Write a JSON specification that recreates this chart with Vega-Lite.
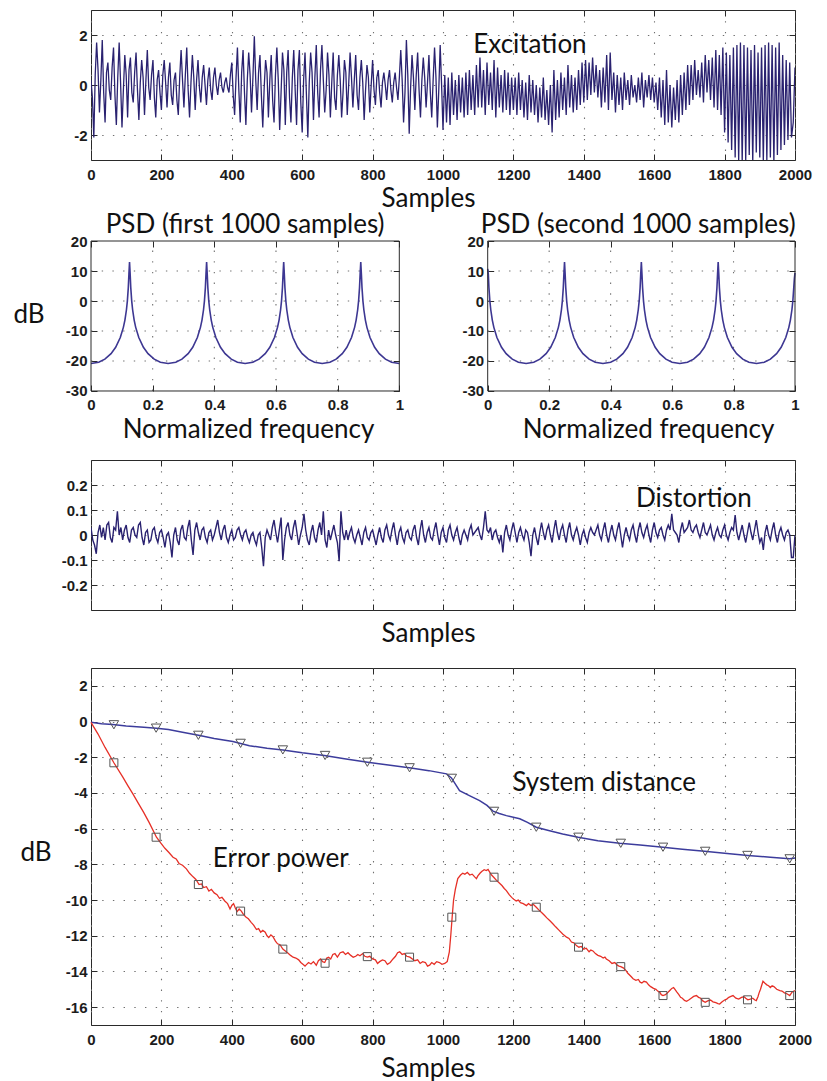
{
"$schema": "https://vega.github.io/schema/vega-lite/v6.json",
"background": "white",
"padding": {"left": 13, "top": 9, "right": 12, "bottom": 0},
"autosize": {"type": "pad"},
"bounds": "flush",
"spacing": 58,
"config": {
  "view": {"stroke": "#2a2a2a", "strokeWidth": 1},
  "axis": {"domain": false, "grid": true, "gridColor": "#707070", "gridDash": [1.4, 9.3], "gridWidth": 1.1, "ticks": true, "tickSize": -6, "tickColor": "#2a2a2a", "labelFont": "Liberation Sans", "labelFontWeight": "bold", "labelFontSize": 15, "labelColor": "#1c1c1c", "labelFlush": false, "labelOverlap": false, "titleFont": "Lato", "titleFontSize": 26, "titleFontWeight": "normal", "titleColor": "#111111", "titleBaseline": "alphabetic"},
  "axisX": {"labelPadding": 13, "titleAlign": "center"},
  "axisY": {"labelPadding": 10, "titleAngle": 0, "titleAlign": "left"},
  "text": {"font": "Lato", "fontSize": 26, "baseline": "alphabetic", "align": "center", "color": "#111111"}
},
"datasets": {
  "exc": [
{"x":0,"y":0.2},{"x":4,"y":-0.5},{"x":8,"y":-2.1},{"x":12,"y":0.4},{"x":16,"y":1.7},{"x":20,"y":0.6},{"x":24,"y":-1.1},{"x":28,"y":0.2},{"x":32,"y":1.8},{"x":36,"y":-0.3},{"x":40,"y":-1.5},{"x":44,"y":0.5},{"x":48,"y":0.9},{"x":52,"y":-0.2},{"x":56,"y":-0.6},{"x":60,"y":0.7},{"x":64,"y":1.5},{"x":68,"y":-0.4},{"x":72,"y":-1.6},{"x":76,"y":0.3},{"x":80,"y":1.7},{"x":84,"y":0.1},{"x":88,"y":-1.7},{"x":92,"y":-0.2},{"x":96,"y":1.2},{"x":100,"y":0.4},{"x":104,"y":-1.3},{"x":108,"y":0.6},{"x":112,"y":1.1},{"x":116,"y":-0.3},{"x":120,"y":-0.7},{"x":124,"y":0.5},{"x":128,"y":1.3},{"x":132,"y":-0.2},{"x":136,"y":-1.4},{"x":140,"y":0.1},{"x":144,"y":1.0},{"x":148,"y":0.3},{"x":152,"y":-1.2},{"x":156,"y":0.2},{"x":160,"y":1.4},{"x":164,"y":-0.1},{"x":168,"y":-0.6},{"x":172,"y":0.4},{"x":176,"y":1.0},{"x":180,"y":-0.5},{"x":184,"y":-1.3},{"x":188,"y":0.2},{"x":192,"y":0.6},{"x":196,"y":-0.3},{"x":200,"y":-1.0},{"x":204,"y":0.4},{"x":208,"y":1.0},{"x":212,"y":0.1},{"x":216,"y":-0.9},{"x":220,"y":0.3},{"x":224,"y":0.9},{"x":228,"y":-0.4},{"x":232,"y":-0.8},{"x":236,"y":0.2},{"x":240,"y":0.5},{"x":244,"y":-0.6},{"x":248,"y":-1.2},{"x":252,"y":0.3},{"x":256,"y":1.4},{"x":260,"y":0.2},{"x":264,"y":-0.9},{"x":268,"y":0.4},{"x":272,"y":1.5},{"x":276,"y":-0.2},{"x":280,"y":-1.3},{"x":284,"y":0.1},{"x":288,"y":1.2},{"x":292,"y":0.3},{"x":296,"y":-1.0},{"x":300,"y":0.2},{"x":304,"y":1.0},{"x":308,"y":-0.1},{"x":312,"y":-0.7},{"x":316,"y":0.3},{"x":320,"y":0.8},{"x":324,"y":0.0},{"x":328,"y":-0.8},{"x":332,"y":0.2},{"x":336,"y":0.7},{"x":340,"y":-0.2},{"x":344,"y":-0.6},{"x":348,"y":0.3},{"x":352,"y":0.7},{"x":356,"y":0.0},{"x":360,"y":-0.4},{"x":364,"y":0.2},{"x":368,"y":0.5},{"x":372,"y":-0.1},{"x":376,"y":-0.3},{"x":380,"y":0.1},{"x":384,"y":0.3},{"x":388,"y":-0.1},{"x":392,"y":-0.3},{"x":396,"y":0.4},{"x":400,"y":0.9},{"x":404,"y":-0.4},{"x":408,"y":-1.2},{"x":412,"y":0.3},{"x":416,"y":1.5},{"x":420,"y":-0.2},{"x":424,"y":-1.5},{"x":428,"y":0.5},{"x":432,"y":1.4},{"x":436,"y":-0.3},{"x":440,"y":-1.6},{"x":444,"y":0.2},{"x":448,"y":1.3},{"x":452,"y":0.4},{"x":456,"y":-1.1},{"x":460,"y":0.3},{"x":464,"y":1.95},{"x":468,"y":0.2},{"x":472,"y":-1.0},{"x":476,"y":0.5},{"x":480,"y":1.2},{"x":484,"y":-0.4},{"x":488,"y":-1.7},{"x":492,"y":-0.1},{"x":496,"y":1.0},{"x":500,"y":0.5},{"x":504,"y":-1.3},{"x":508,"y":0.2},{"x":512,"y":1.2},{"x":516,"y":-0.6},{"x":520,"y":-1.5},{"x":524,"y":0.4},{"x":528,"y":1.5},{"x":532,"y":0.2},{"x":536,"y":-1.8},{"x":540,"y":-0.3},{"x":544,"y":1.3},{"x":548,"y":0.6},{"x":552,"y":-1.6},{"x":556,"y":0.5},{"x":560,"y":1.4},{"x":564,"y":-0.5},{"x":568,"y":-1.5},{"x":572,"y":0.3},{"x":576,"y":1.4},{"x":580,"y":-0.2},{"x":584,"y":-1.6},{"x":588,"y":0.6},{"x":592,"y":1.4},{"x":596,"y":-0.7},{"x":600,"y":-1.9},{"x":604,"y":0.2},{"x":608,"y":1.3},{"x":612,"y":-0.4},{"x":616,"y":-2.1},{"x":620,"y":0.1},{"x":624,"y":1.3},{"x":628,"y":0.5},{"x":632,"y":-1.4},{"x":636,"y":0.3},{"x":640,"y":1.6},{"x":644,"y":-0.3},{"x":648,"y":-1.3},{"x":652,"y":0.6},{"x":656,"y":1.6},{"x":660,"y":0.2},{"x":664,"y":-1.1},{"x":668,"y":-0.2},{"x":672,"y":1.3},{"x":676,"y":0.4},{"x":680,"y":-1.3},{"x":684,"y":0.1},{"x":688,"y":1.3},{"x":692,"y":-0.5},{"x":696,"y":-1.0},{"x":700,"y":0.4},{"x":704,"y":1.2},{"x":708,"y":0.2},{"x":712,"y":-1.3},{"x":716,"y":-0.3},{"x":720,"y":1.0},{"x":724,"y":0.5},{"x":728,"y":-1.2},{"x":732,"y":0.0},{"x":736,"y":1.3},{"x":740,"y":0.3},{"x":744,"y":-0.9},{"x":748,"y":0.2},{"x":752,"y":1.2},{"x":756,"y":-0.4},{"x":760,"y":-1.0},{"x":764,"y":0.3},{"x":768,"y":1.0},{"x":772,"y":0.1},{"x":776,"y":-1.4},{"x":780,"y":-0.2},{"x":784,"y":0.8},{"x":788,"y":0.3},{"x":792,"y":-1.1},{"x":796,"y":0.0},{"x":800,"y":1.0},{"x":804,"y":-0.2},{"x":808,"y":-0.8},{"x":812,"y":0.3},{"x":816,"y":0.6},{"x":820,"y":-0.3},{"x":824,"y":-0.9},{"x":828,"y":0.1},{"x":832,"y":0.5},{"x":836,"y":0.0},{"x":840,"y":-0.6},{"x":844,"y":0.2},{"x":848,"y":0.6},{"x":852,"y":-0.2},{"x":856,"y":-0.7},{"x":860,"y":0.1},{"x":864,"y":0.5},{"x":868,"y":-0.1},{"x":872,"y":-0.6},{"x":876,"y":0.3},{"x":880,"y":1.4},{"x":884,"y":0.2},{"x":888,"y":-1.5},{"x":892,"y":-0.3},{"x":896,"y":1.8},{"x":900,"y":0.4},{"x":904,"y":-1.95},{"x":908,"y":-0.1},{"x":912,"y":1.2},{"x":916,"y":0.3},{"x":920,"y":-1.0},{"x":924,"y":0.4},{"x":928,"y":1.3},{"x":932,"y":-0.2},{"x":936,"y":-1.3},{"x":940,"y":0.2},{"x":944,"y":1.1},{"x":948,"y":0.3},{"x":952,"y":-0.9},{"x":956,"y":0.1},{"x":960,"y":1.2},{"x":964,"y":-0.3},{"x":968,"y":-1.3},{"x":972,"y":0.2},{"x":976,"y":1.5},{"x":980,"y":0.3},{"x":984,"y":-1.7},{"x":988,"y":-0.2},{"x":992,"y":1.6},{"x":996,"y":0.0},{"x":1000,"y":-1.8},
{"x":1005,"y":0.4},{"x":1010,"y":-1.5},{"x":1015,"y":0.3},{"x":1020,"y":-1.6},{"x":1025,"y":0.5},{"x":1030,"y":-1.2},{"x":1035,"y":0.2},{"x":1040,"y":-1.4},{"x":1045,"y":0.4},{"x":1050,"y":-1.1},{"x":1055,"y":0.3},{"x":1060,"y":-1.3},{"x":1065,"y":0.5},{"x":1070,"y":-1.2},{"x":1075,"y":0.6},{"x":1080,"y":-1.0},{"x":1085,"y":0.4},{"x":1090,"y":-1.2},{"x":1095,"y":0.8},{"x":1100,"y":-0.9},
{"x":1105,"y":1.1},{"x":1110,"y":-0.9},{"x":1115,"y":0.6},{"x":1120,"y":-1.2},{"x":1125,"y":0.9},{"x":1130,"y":-0.8},{"x":1135,"y":0.5},{"x":1140,"y":-1.0},{"x":1145,"y":1.0},{"x":1150,"y":-1.3},{"x":1155,"y":0.7},{"x":1160,"y":-0.9},{"x":1165,"y":0.4},{"x":1170,"y":-1.1},{"x":1175,"y":0.6},{"x":1180,"y":-1.0},{"x":1185,"y":0.5},{"x":1190,"y":-1.2},{"x":1195,"y":0.3},{"x":1200,"y":-1.0},
{"x":1205,"y":0.3},{"x":1210,"y":-1.2},{"x":1215,"y":0.5},{"x":1220,"y":-1.0},{"x":1225,"y":0.2},{"x":1230,"y":-1.3},{"x":1235,"y":0.1},{"x":1240,"y":-1.4},{"x":1245,"y":0.4},{"x":1250,"y":-1.1},{"x":1255,"y":0.2},{"x":1260,"y":-1.2},{"x":1265,"y":0.0},{"x":1270,"y":-1.5},{"x":1275,"y":-0.1},{"x":1280,"y":-1.3},{"x":1285,"y":0.3},{"x":1290,"y":-1.4},{"x":1295,"y":-0.2},{"x":1300,"y":-1.6},
{"x":1305,"y":0.0},{"x":1310,"y":-1.9},{"x":1315,"y":0.6},{"x":1320,"y":-1.4},{"x":1325,"y":0.2},{"x":1330,"y":-1.3},{"x":1335,"y":0.5},{"x":1340,"y":-1.0},{"x":1345,"y":0.3},{"x":1350,"y":-1.2},{"x":1355,"y":0.8},{"x":1360,"y":-0.9},{"x":1365,"y":0.4},{"x":1370,"y":-1.1},{"x":1375,"y":0.3},{"x":1380,"y":-1.0},{"x":1385,"y":0.6},{"x":1390,"y":-0.8},{"x":1395,"y":0.9},{"x":1400,"y":-0.7},
{"x":1405,"y":1.0},{"x":1410,"y":-0.6},{"x":1415,"y":0.9},{"x":1420,"y":-0.4},{"x":1425,"y":1.1},{"x":1430,"y":-0.3},{"x":1435,"y":0.8},{"x":1440,"y":-0.5},{"x":1445,"y":0.6},{"x":1450,"y":-0.9},{"x":1455,"y":0.7},{"x":1460,"y":-0.7},{"x":1465,"y":1.2},{"x":1470,"y":-1.0},{"x":1475,"y":1.3},{"x":1480,"y":-0.6},{"x":1485,"y":0.5},{"x":1490,"y":-1.1},{"x":1495,"y":0.4},{"x":1500,"y":-0.8},
{"x":1505,"y":0.3},{"x":1510,"y":-1.0},{"x":1515,"y":0.5},{"x":1520,"y":-0.6},{"x":1525,"y":0.2},{"x":1530,"y":-0.8},{"x":1535,"y":0.4},{"x":1540,"y":-0.5},{"x":1545,"y":0.0},{"x":1550,"y":-0.7},{"x":1555,"y":0.3},{"x":1560,"y":-0.6},{"x":1565,"y":0.5},{"x":1570,"y":-0.9},{"x":1575,"y":0.2},{"x":1580,"y":-0.5},{"x":1585,"y":0.4},{"x":1590,"y":-0.6},{"x":1595,"y":0.3},{"x":1600,"y":-0.7},
{"x":1605,"y":0.1},{"x":1610,"y":-1.0},{"x":1615,"y":0.3},{"x":1620,"y":-1.3},{"x":1625,"y":0.2},{"x":1630,"y":-1.6},{"x":1635,"y":0.6},{"x":1640,"y":-1.5},{"x":1645,"y":0.0},{"x":1650,"y":-1.7},{"x":1655,"y":-0.1},{"x":1660,"y":-1.4},{"x":1665,"y":0.2},{"x":1670,"y":-1.5},{"x":1675,"y":0.4},{"x":1680,"y":-1.2},{"x":1685,"y":0.5},{"x":1690,"y":-1.0},{"x":1695,"y":0.8},{"x":1700,"y":-0.8},
{"x":1705,"y":0.8},{"x":1710,"y":-0.6},{"x":1715,"y":1.0},{"x":1720,"y":-0.4},{"x":1725,"y":0.6},{"x":1730,"y":-0.5},{"x":1735,"y":0.9},{"x":1740,"y":-0.7},{"x":1745,"y":1.2},{"x":1750,"y":-0.3},{"x":1755,"y":1.0},{"x":1760,"y":-0.6},{"x":1765,"y":1.1},{"x":1770,"y":-0.9},{"x":1775,"y":1.4},{"x":1780,"y":-1.0},{"x":1785,"y":1.2},{"x":1790,"y":-1.2},{"x":1795,"y":1.5},{"x":1800,"y":-1.9},
{"x":1805,"y":1.3},{"x":1810,"y":-2.3},{"x":1815,"y":1.2},{"x":1820,"y":-2.6},{"x":1825,"y":1.5},{"x":1830,"y":-2.9},{"x":1835,"y":1.6},{"x":1840,"y":-3.0},{"x":1845,"y":1.7},{"x":1850,"y":-3.1},{"x":1855,"y":1.6},{"x":1860,"y":-3.0},{"x":1865,"y":1.5},{"x":1870,"y":-2.8},{"x":1875,"y":1.4},{"x":1880,"y":-3.1},{"x":1885,"y":1.6},{"x":1890,"y":-2.7},{"x":1895,"y":1.3},{"x":1900,"y":-2.9},
{"x":1905,"y":1.5},{"x":1910,"y":-3.1},{"x":1915,"y":1.6},{"x":1920,"y":-3.0},{"x":1925,"y":1.7},{"x":1930,"y":-2.9},{"x":1935,"y":1.6},{"x":1940,"y":-3.1},{"x":1945,"y":1.5},{"x":1950,"y":-2.8},{"x":1955,"y":1.7},{"x":1960,"y":-2.6},{"x":1965,"y":1.2},{"x":1970,"y":-2.4},{"x":1975,"y":1.0},{"x":1980,"y":-2.2},{"x":1985,"y":0.9},{"x":1990,"y":-2.1},{"x":1995,"y":-1.5},{"x":2000,"y":0.7}
  ],
  "psd1": [
{"f":0,"db":-20.85},{"f":0.025,"db":-20.41},{"f":0.045,"db":-19.38},{"f":0.065,"db":-17.56},{"f":0.08,"db":-15.43},{"f":0.095,"db":-12.18},{"f":0.105,"db":-8.79},{"f":0.11,"db":-6.35},{"f":0.115,"db":-2.92},{"f":0.118,"db":0.05},{"f":0.121,"db":4.47},{"f":0.123,"db":8.95},{"f":0.125,"db":12.96},{"f":0.127,"db":8.95},{"f":0.129,"db":4.47},{"f":0.132,"db":0.05},{"f":0.135,"db":-2.92},{"f":0.14,"db":-6.35},{"f":0.145,"db":-8.79},{"f":0.155,"db":-12.18},{"f":0.17,"db":-15.43},{"f":0.185,"db":-17.56},{"f":0.205,"db":-19.38},{"f":0.225,"db":-20.41},{"f":0.25,"db":-20.85},
{"f":0.275,"db":-20.41},{"f":0.295,"db":-19.38},{"f":0.315,"db":-17.56},{"f":0.33,"db":-15.43},{"f":0.345,"db":-12.18},{"f":0.355,"db":-8.79},{"f":0.36,"db":-6.35},{"f":0.365,"db":-2.92},{"f":0.368,"db":0.05},{"f":0.371,"db":4.47},{"f":0.373,"db":8.95},{"f":0.375,"db":12.96},{"f":0.377,"db":8.95},{"f":0.379,"db":4.47},{"f":0.382,"db":0.05},{"f":0.385,"db":-2.92},{"f":0.39,"db":-6.35},{"f":0.395,"db":-8.79},{"f":0.405,"db":-12.18},{"f":0.42,"db":-15.43},{"f":0.435,"db":-17.56},{"f":0.455,"db":-19.38},{"f":0.475,"db":-20.41},{"f":0.5,"db":-20.85},
{"f":0.525,"db":-20.41},{"f":0.545,"db":-19.38},{"f":0.565,"db":-17.56},{"f":0.58,"db":-15.43},{"f":0.595,"db":-12.18},{"f":0.605,"db":-8.79},{"f":0.61,"db":-6.35},{"f":0.615,"db":-2.92},{"f":0.618,"db":0.05},{"f":0.621,"db":4.47},{"f":0.623,"db":8.95},{"f":0.625,"db":12.96},{"f":0.627,"db":8.95},{"f":0.629,"db":4.47},{"f":0.632,"db":0.05},{"f":0.635,"db":-2.92},{"f":0.64,"db":-6.35},{"f":0.645,"db":-8.79},{"f":0.655,"db":-12.18},{"f":0.67,"db":-15.43},{"f":0.685,"db":-17.56},{"f":0.705,"db":-19.38},{"f":0.725,"db":-20.41},{"f":0.75,"db":-20.85},
{"f":0.775,"db":-20.41},{"f":0.795,"db":-19.38},{"f":0.815,"db":-17.56},{"f":0.83,"db":-15.43},{"f":0.845,"db":-12.18},{"f":0.855,"db":-8.79},{"f":0.86,"db":-6.35},{"f":0.865,"db":-2.92},{"f":0.868,"db":0.05},{"f":0.871,"db":4.47},{"f":0.873,"db":8.95},{"f":0.875,"db":12.96},{"f":0.877,"db":8.95},{"f":0.879,"db":4.47},{"f":0.882,"db":0.05},{"f":0.885,"db":-2.92},{"f":0.89,"db":-6.35},{"f":0.895,"db":-8.79},{"f":0.905,"db":-12.18},{"f":0.92,"db":-15.43},{"f":0.935,"db":-17.56},{"f":0.955,"db":-19.38},{"f":0.975,"db":-20.41},{"f":1,"db":-20.85}
  ],
  "psd2": [
{"f":0,"db":10.7},{"f":0.002,"db":8.95},{"f":0.004,"db":4.47},{"f":0.007,"db":0.05},{"f":0.01,"db":-2.92},{"f":0.015,"db":-6.35},{"f":0.02,"db":-8.79},{"f":0.03,"db":-12.18},{"f":0.045,"db":-15.43},{"f":0.06,"db":-17.56},{"f":0.08,"db":-19.38},{"f":0.1,"db":-20.41},{"f":0.125,"db":-20.85},{"f":0.15,"db":-20.41},{"f":0.17,"db":-19.38},{"f":0.19,"db":-17.56},{"f":0.205,"db":-15.43},{"f":0.22,"db":-12.18},{"f":0.23,"db":-8.79},{"f":0.235,"db":-6.35},{"f":0.24,"db":-2.92},{"f":0.243,"db":0.05},{"f":0.246,"db":4.47},{"f":0.248,"db":8.95},{"f":0.25,"db":12.96},
{"f":0.252,"db":8.95},{"f":0.254,"db":4.47},{"f":0.257,"db":0.05},{"f":0.26,"db":-2.92},{"f":0.265,"db":-6.35},{"f":0.27,"db":-8.79},{"f":0.28,"db":-12.18},{"f":0.295,"db":-15.43},{"f":0.31,"db":-17.56},{"f":0.33,"db":-19.38},{"f":0.35,"db":-20.41},{"f":0.375,"db":-20.85},{"f":0.4,"db":-20.41},{"f":0.42,"db":-19.38},{"f":0.44,"db":-17.56},{"f":0.455,"db":-15.43},{"f":0.47,"db":-12.18},{"f":0.48,"db":-8.79},{"f":0.485,"db":-6.35},{"f":0.49,"db":-2.92},{"f":0.493,"db":0.05},{"f":0.496,"db":4.47},{"f":0.498,"db":8.95},{"f":0.5,"db":12.96},
{"f":0.502,"db":8.95},{"f":0.504,"db":4.47},{"f":0.507,"db":0.05},{"f":0.51,"db":-2.92},{"f":0.515,"db":-6.35},{"f":0.52,"db":-8.79},{"f":0.53,"db":-12.18},{"f":0.545,"db":-15.43},{"f":0.56,"db":-17.56},{"f":0.58,"db":-19.38},{"f":0.6,"db":-20.41},{"f":0.625,"db":-20.85},{"f":0.65,"db":-20.41},{"f":0.67,"db":-19.38},{"f":0.69,"db":-17.56},{"f":0.705,"db":-15.43},{"f":0.72,"db":-12.18},{"f":0.73,"db":-8.79},{"f":0.735,"db":-6.35},{"f":0.74,"db":-2.92},{"f":0.743,"db":0.05},{"f":0.746,"db":4.47},{"f":0.748,"db":8.95},{"f":0.75,"db":12.96},
{"f":0.752,"db":8.95},{"f":0.754,"db":4.47},{"f":0.757,"db":0.05},{"f":0.76,"db":-2.92},{"f":0.765,"db":-6.35},{"f":0.77,"db":-8.79},{"f":0.78,"db":-12.18},{"f":0.795,"db":-15.43},{"f":0.81,"db":-17.56},{"f":0.83,"db":-19.38},{"f":0.85,"db":-20.41},{"f":0.875,"db":-20.85},{"f":0.9,"db":-20.41},{"f":0.92,"db":-19.38},{"f":0.94,"db":-17.56},{"f":0.955,"db":-15.43},{"f":0.97,"db":-12.18},{"f":0.98,"db":-8.79},{"f":0.985,"db":-6.35},{"f":0.99,"db":-2.92},{"f":0.993,"db":0.05},{"f":0.996,"db":4.47},{"f":0.998,"db":7.5},{"f":1,"db":9.4}
  ],
  "dist": [
{"x":0,"y":0.03},{"x":5,"y":-0.02},{"x":10,"y":-0.04},{"x":15,"y":-0.075},{"x":20,"y":0.01},{"x":25,"y":0.04},{"x":30,"y":-0.01},{"x":35,"y":0.03},{"x":40,"y":-0.02},{"x":45,"y":0.04},{"x":50,"y":0.05},{"x":55,"y":-0.01},{"x":60,"y":-0.03},{"x":65,"y":0.03},{"x":70,"y":0.02},{"x":75,"y":0.095},{"x":80,"y":0.0},{"x":85,"y":0.03},{"x":90,"y":-0.02},{"x":95,"y":0.02},{"x":100,"y":0.04},{"x":105,"y":-0.01},{"x":110,"y":-0.03},{"x":115,"y":0.02},{"x":120,"y":0.03},{"x":125,"y":0.0},{"x":130,"y":-0.01},{"x":135,"y":0.04},{"x":140,"y":0.05},{"x":145,"y":-0.01},{"x":150,"y":-0.04},{"x":155,"y":0.01},{"x":160,"y":0.02},{"x":165,"y":-0.03},{"x":170,"y":-0.02},{"x":175,"y":0.02},{"x":180,"y":0.03},{"x":185,"y":-0.01},{"x":190,"y":-0.03},{"x":195,"y":0.01},{"x":200,"y":0.02},{"x":205,"y":-0.01},{"x":210,"y":-0.05},{"x":215,"y":0.0},{"x":220,"y":0.01},{"x":225,"y":-0.03},{"x":230,"y":-0.09},{"x":235,"y":0.0},{"x":240,"y":0.03},{"x":245,"y":-0.02},{"x":250,"y":-0.04},{"x":255,"y":0.02},{"x":260,"y":0.04},{"x":265,"y":-0.01},{"x":270,"y":-0.02},{"x":275,"y":0.03},{"x":280,"y":0.06},{"x":285,"y":-0.02},{"x":290,"y":-0.08},{"x":295,"y":0.02},{"x":300,"y":0.05},{"x":305,"y":0.01},{"x":310,"y":-0.02},{"x":315,"y":0.02},{"x":320,"y":0.03},{"x":325,"y":-0.01},{"x":330,"y":-0.03},{"x":335,"y":0.01},{"x":340,"y":0.02},{"x":345,"y":-0.02},{"x":350,"y":0.0},{"x":355,"y":0.03},{"x":360,"y":0.06},{"x":365,"y":0.01},{"x":370,"y":-0.02},{"x":375,"y":0.02},{"x":380,"y":0.04},{"x":385,"y":-0.01},{"x":390,"y":-0.03},{"x":395,"y":0.0},{"x":400,"y":0.02},{"x":405,"y":-0.02},{"x":410,"y":-0.01},{"x":415,"y":0.02},{"x":420,"y":0.03},{"x":425,"y":0.0},{"x":430,"y":-0.02},{"x":435,"y":0.01},{"x":440,"y":0.02},{"x":445,"y":-0.01},{"x":450,"y":-0.03},{"x":455,"y":0.0},{"x":460,"y":0.01},{"x":465,"y":-0.02},{"x":470,"y":-0.04},{"x":475,"y":0.0},{"x":480,"y":0.01},{"x":485,"y":-0.05},{"x":490,"y":-0.125},{"x":495,"y":-0.01},{"x":500,"y":0.02},{"x":505,"y":0.0},{"x":510,"y":-0.02},{"x":515,"y":0.03},{"x":520,"y":0.06},{"x":525,"y":0.01},{"x":530,"y":-0.03},{"x":535,"y":0.02},{"x":540,"y":0.07},{"x":545,"y":-0.1},{"x":550,"y":-0.02},{"x":555,"y":0.03},{"x":560,"y":0.05},{"x":565,"y":0.0},{"x":570,"y":-0.02},{"x":575,"y":0.03},{"x":580,"y":0.06},{"x":585,"y":0.01},{"x":590,"y":-0.04},{"x":595,"y":0.0},{"x":600,"y":0.03},{"x":605,"y":0.085},{"x":610,"y":0.02},{"x":615,"y":-0.02},{"x":620,"y":-0.04},{"x":625,"y":0.01},{"x":630,"y":0.04},{"x":635,"y":-0.01},{"x":640,"y":-0.03},{"x":645,"y":0.02},{"x":650,"y":0.05},{"x":655,"y":0.0},{"x":660,"y":0.095},{"x":665,"y":-0.02},{"x":670,"y":-0.05},{"x":675,"y":0.02},{"x":680,"y":-0.02},{"x":685,"y":0.01},{"x":690,"y":0.04},{"x":695,"y":0.0},{"x":700,"y":-0.03},{"x":705,"y":-0.105},{"x":710,"y":0.095},{"x":715,"y":0.01},{"x":720,"y":-0.02},{"x":725,"y":0.02},{"x":730,"y":-0.02},{"x":735,"y":0.01},{"x":740,"y":0.03},{"x":745,"y":-0.01},{"x":750,"y":-0.03},{"x":755,"y":0.0},{"x":760,"y":0.02},{"x":765,"y":-0.01},{"x":770,"y":-0.04},{"x":775,"y":0.01},{"x":780,"y":0.03},{"x":785,"y":-0.01},{"x":790,"y":-0.02},{"x":795,"y":0.01},{"x":800,"y":0.02},{"x":805,"y":-0.01},{"x":810,"y":-0.04},{"x":815,"y":0.0},{"x":820,"y":0.03},{"x":825,"y":-0.01},{"x":830,"y":-0.03},{"x":835,"y":0.02},{"x":840,"y":0.04},{"x":845,"y":0.0},{"x":850,"y":-0.02},{"x":855,"y":0.02},{"x":860,"y":0.05},{"x":865,"y":0.0},{"x":870,"y":-0.04},{"x":875,"y":0.01},{"x":880,"y":0.03},{"x":885,"y":-0.01},{"x":890,"y":-0.03},{"x":895,"y":0.01},{"x":900,"y":0.02},{"x":905,"y":-0.01},{"x":910,"y":-0.02},{"x":915,"y":0.02},{"x":920,"y":0.04},{"x":925,"y":-0.01},{"x":930,"y":-0.04},{"x":935,"y":0.02},{"x":940,"y":0.06},{"x":945,"y":0.0},{"x":950,"y":-0.03},{"x":955,"y":0.01},{"x":960,"y":0.03},{"x":965,"y":-0.01},{"x":970,"y":-0.02},{"x":975,"y":0.02},{"x":980,"y":0.05},{"x":985,"y":0.0},{"x":990,"y":-0.04},{"x":995,"y":0.01},{"x":1000,"y":0.03},{"x":1005,"y":-0.01},{"x":1010,"y":-0.03},{"x":1015,"y":0.02},{"x":1020,"y":0.04},{"x":1025,"y":0.0},{"x":1030,"y":-0.02},{"x":1035,"y":0.01},{"x":1040,"y":0.03},{"x":1045,"y":-0.01},{"x":1050,"y":-0.04},{"x":1055,"y":0.0},{"x":1060,"y":0.02},{"x":1065,"y":0.0},{"x":1070,"y":-0.02},{"x":1075,"y":0.02},{"x":1080,"y":0.04},{"x":1085,"y":0.0},{"x":1090,"y":0.01},{"x":1095,"y":0.02},{"x":1100,"y":0.03},{"x":1105,"y":0.0},{"x":1110,"y":-0.02},{"x":1115,"y":0.03},{"x":1120,"y":0.095},{"x":1125,"y":0.02},{"x":1130,"y":0.01},{"x":1135,"y":0.03},{"x":1140,"y":-0.02},{"x":1145,"y":0.01},{"x":1150,"y":0.02},{"x":1155,"y":-0.01},{"x":1160,"y":-0.03},{"x":1165,"y":0.0},{"x":1170,"y":-0.07},{"x":1175,"y":0.01},{"x":1180,"y":0.04},{"x":1185,"y":0.0},{"x":1190,"y":-0.02},{"x":1195,"y":0.02},{"x":1200,"y":0.05},{"x":1205,"y":0.01},{"x":1210,"y":-0.03},{"x":1215,"y":0.01},{"x":1220,"y":0.03},{"x":1225,"y":0.0},{"x":1230,"y":-0.02},{"x":1235,"y":0.02},{"x":1240,"y":0.01},{"x":1245,"y":-0.03},{"x":1250,"y":-0.085},{"x":1255,"y":0.0},{"x":1260,"y":0.03},{"x":1265,"y":-0.01},{"x":1270,"y":-0.04},{"x":1275,"y":0.01},{"x":1280,"y":0.05},{"x":1285,"y":0.01},{"x":1290,"y":-0.02},{"x":1295,"y":0.02},{"x":1300,"y":0.04},{"x":1305,"y":0.0},{"x":1310,"y":-0.03},{"x":1315,"y":0.02},{"x":1320,"y":0.06},{"x":1325,"y":0.01},{"x":1330,"y":-0.02},{"x":1335,"y":0.02},{"x":1340,"y":0.04},{"x":1345,"y":0.0},{"x":1350,"y":-0.03},{"x":1355,"y":0.02},{"x":1360,"y":0.05},{"x":1365,"y":0.0},{"x":1370,"y":-0.02},{"x":1375,"y":0.01},{"x":1380,"y":0.03},{"x":1385,"y":0.0},{"x":1390,"y":-0.04},{"x":1395,"y":0.0},{"x":1400,"y":0.02},{"x":1405,"y":-0.01},{"x":1410,"y":-0.03},{"x":1415,"y":0.01},{"x":1420,"y":0.03},{"x":1425,"y":0.01},{"x":1430,"y":0.0},{"x":1435,"y":0.02},{"x":1440,"y":0.04},{"x":1445,"y":0.0},{"x":1450,"y":-0.02},{"x":1455,"y":0.02},{"x":1460,"y":0.05},{"x":1465,"y":0.0},{"x":1470,"y":-0.03},{"x":1475,"y":0.01},{"x":1480,"y":0.04},{"x":1485,"y":0.0},{"x":1490,"y":-0.02},{"x":1495,"y":0.02},{"x":1500,"y":0.05},{"x":1505,"y":0.0},{"x":1510,"y":-0.05},{"x":1515,"y":0.0},{"x":1520,"y":0.03},{"x":1525,"y":0.0},{"x":1530,"y":-0.02},{"x":1535,"y":0.02},{"x":1540,"y":0.04},{"x":1545,"y":0.0},{"x":1550,"y":-0.03},{"x":1555,"y":0.02},{"x":1560,"y":0.05},{"x":1565,"y":0.01},{"x":1570,"y":-0.01},{"x":1575,"y":0.02},{"x":1580,"y":0.04},{"x":1585,"y":0.0},{"x":1590,"y":-0.03},{"x":1595,"y":0.02},{"x":1600,"y":0.05},{"x":1605,"y":0.01},{"x":1610,"y":-0.01},{"x":1615,"y":0.02},{"x":1620,"y":0.03},{"x":1625,"y":0.0},{"x":1630,"y":-0.02},{"x":1635,"y":0.02},{"x":1640,"y":0.04},{"x":1645,"y":0.02},{"x":1650,"y":0.085},{"x":1655,"y":0.02},{"x":1660,"y":0.01},{"x":1665,"y":0.0},{"x":1670,"y":-0.03},{"x":1675,"y":0.02},{"x":1680,"y":0.05},{"x":1685,"y":0.01},{"x":1690,"y":0.02},{"x":1695,"y":0.03},{"x":1700,"y":0.06},{"x":1705,"y":0.02},{"x":1710,"y":0.01},{"x":1715,"y":0.03},{"x":1720,"y":0.04},{"x":1725,"y":0.01},{"x":1730,"y":-0.01},{"x":1735,"y":0.02},{"x":1740,"y":0.05},{"x":1745,"y":0.01},{"x":1750,"y":0.0},{"x":1755,"y":0.02},{"x":1760,"y":0.04},{"x":1765,"y":0.0},{"x":1770,"y":-0.02},{"x":1775,"y":0.01},{"x":1780,"y":0.03},{"x":1785,"y":0.0},{"x":1790,"y":-0.01},{"x":1795,"y":0.02},{"x":1800,"y":0.04},{"x":1805,"y":0.0},{"x":1810,"y":-0.02},{"x":1815,"y":0.01},{"x":1820,"y":0.03},{"x":1825,"y":0.02},{"x":1830,"y":0.08},{"x":1835,"y":0.01},{"x":1840,"y":-0.02},{"x":1845,"y":0.01},{"x":1850,"y":0.04},{"x":1855,"y":0.0},{"x":1860,"y":-0.03},{"x":1865,"y":0.01},{"x":1870,"y":0.05},{"x":1875,"y":0.01},{"x":1880,"y":-0.02},{"x":1885,"y":0.02},{"x":1890,"y":0.06},{"x":1895,"y":0.01},{"x":1900,"y":-0.03},{"x":1905,"y":-0.01},{"x":1910,"y":-0.06},{"x":1915,"y":0.01},{"x":1920,"y":0.04},{"x":1925,"y":0.0},{"x":1930,"y":-0.02},{"x":1935,"y":0.02},{"x":1940,"y":0.05},{"x":1945,"y":0.0},{"x":1950,"y":-0.03},{"x":1955,"y":0.01},{"x":1960,"y":0.03},{"x":1965,"y":0.0},{"x":1970,"y":-0.02},{"x":1975,"y":0.01},{"x":1980,"y":0.02},{"x":1985,"y":0.0},{"x":1990,"y":-0.09},{"x":1995,"y":-0.09},{"x":2000,"y":0.0}
  ],
  "sysd": [
{"x":0,"y":-0.04},{"x":30,"y":-0.12},{"x":62,"y":-0.17},{"x":100,"y":-0.25},{"x":150,"y":-0.32},{"x":186,"y":-0.37},{"x":220,"y":-0.45},{"x":260,"y":-0.6},{"x":309,"y":-0.78},{"x":350,"y":-0.95},{"x":403,"y":-1.12},{"x":450,"y":-1.35},{"x":500,"y":-1.5},{"x":545,"y":-1.59},{"x":600,"y":-1.75},{"x":663,"y":-1.9},{"x":720,"y":-2.08},{"x":786,"y":-2.28},{"x":850,"y":-2.45},{"x":909,"y":-2.6},{"x":960,"y":-2.75},{"x":1010,"y":-2.93},{"x":1024,"y":-3.16},{"x":1047,"y":-3.87},{"x":1075,"y":-4.15},{"x":1104,"y":-4.43},{"x":1125,"y":-4.7},{"x":1142,"y":-5.02},{"x":1160,"y":-5.15},{"x":1180,"y":-5.27},{"x":1218,"y":-5.45},{"x":1240,"y":-5.65},{"x":1265,"y":-5.92},{"x":1300,"y":-6.1},{"x":1340,"y":-6.3},{"x":1384,"y":-6.48},{"x":1440,"y":-6.68},{"x":1502,"y":-6.82},{"x":1560,"y":-6.92},{"x":1625,"y":-7.04},{"x":1680,"y":-7.15},{"x":1743,"y":-7.27},{"x":1800,"y":-7.38},{"x":1866,"y":-7.5},{"x":1930,"y":-7.6},{"x":1985,"y":-7.69},{"x":2000,"y":-7.65}
  ],
  "errp": [
{"x":0,"y":-0.05},{"x":20,"y":-0.7},{"x":40,"y":-1.45},{"x":65,"y":-2.31},{"x":90,"y":-3.1},{"x":105,"y":-3.6},{"x":119,"y":-4.05},{"x":135,"y":-4.6},{"x":150,"y":-5.1},{"x":165,"y":-5.65},{"x":186,"y":-6.48},{"x":198,"y":-6.8},{"x":210,"y":-7.1},{"x":222,"y":-7.35},{"x":233,"y":-7.6},{"x":242,"y":-7.7},{"x":250,"y":-7.95},{"x":260,"y":-8.05},{"x":271,"y":-8.25},{"x":280,"y":-8.5},{"x":290,"y":-8.7},{"x":298,"y":-8.85},{"x":307,"y":-9.13},{"x":314,"y":-9.1},{"x":320,"y":-9.3},{"x":328,"y":-9.25},{"x":335,"y":-9.5},{"x":342,"y":-9.4},{"x":350,"y":-9.6},{"x":358,"y":-9.7},{"x":365,"y":-9.9},{"x":372,"y":-9.85},{"x":380,"y":-10.05},{"x":388,"y":-10.2},{"x":395,"y":-10.5},{"x":400,"y":-10.3},{"x":405,"y":-10.2},{"x":410,"y":-10.45},{"x":415,"y":-10.65},{"x":421,"y":-10.5},{"x":427,"y":-10.62},{"x":433,"y":-10.8},{"x":440,"y":-10.95},{"x":447,"y":-11.05},{"x":455,"y":-11.25},{"x":462,"y":-11.4},{"x":470,"y":-11.65},{"x":476,"y":-11.6},{"x":482,"y":-11.8},{"x":488,"y":-11.7},{"x":495,"y":-11.8},{"x":500,"y":-12.0},{"x":505,"y":-12.1},{"x":511,"y":-11.95},{"x":517,"y":-12.05},{"x":524,"y":-12.3},{"x":530,"y":-12.45},{"x":537,"y":-12.5},{"x":545,"y":-12.75},{"x":552,"y":-12.85},{"x":560,"y":-12.98},{"x":567,"y":-13.1},{"x":574,"y":-13.2},{"x":582,"y":-13.25},{"x":590,"y":-13.35},{"x":596,"y":-13.5},{"x":602,"y":-13.6},{"x":608,"y":-13.7},{"x":612,"y":-13.62},{"x":618,"y":-13.5},{"x":625,"y":-13.58},{"x":632,"y":-13.45},{"x":640,"y":-13.65},{"x":646,"y":-13.4},{"x":652,"y":-13.3},{"x":658,"y":-13.45},{"x":664,"y":-13.5},{"x":670,"y":-13.25},{"x":675,"y":-13.2},{"x":681,"y":-13.3},{"x":687,"y":-13.05},{"x":693,"y":-13.0},{"x":700,"y":-13.2},{"x":708,"y":-12.95},{"x":716,"y":-12.9},{"x":723,"y":-13.05},{"x":730,"y":-12.95},{"x":738,"y":-13.1},{"x":745,"y":-13.2},{"x":752,"y":-13.15},{"x":758,"y":-13.05},{"x":764,"y":-13.12},{"x":772,"y":-13.0},{"x":778,"y":-13.15},{"x":785,"y":-13.2},{"x":792,"y":-13.15},{"x":800,"y":-13.3},{"x":808,"y":-13.35},{"x":814,"y":-13.55},{"x":820,"y":-13.45},{"x":828,"y":-13.35},{"x":835,"y":-13.4},{"x":842,"y":-13.6},{"x":850,"y":-13.5},{"x":858,"y":-13.3},{"x":865,"y":-13.15},{"x":871,"y":-12.95},{"x":877,"y":-12.9},{"x":884,"y":-13.05},{"x":890,"y":-13.0},{"x":897,"y":-13.15},{"x":906,"y":-13.2},{"x":913,"y":-13.3},{"x":920,"y":-13.4},{"x":928,"y":-13.35},{"x":935,"y":-13.55},{"x":942,"y":-13.45},{"x":950,"y":-13.5},{"x":956,"y":-13.7},{"x":962,"y":-13.65},{"x":968,"y":-13.5},{"x":975,"y":-13.6},{"x":982,"y":-13.45},{"x":990,"y":-13.5},{"x":997,"y":-13.6},{"x":1005,"y":-13.55},{"x":1012,"y":-13.45},{"x":1018,"y":-12.9},{"x":1022,"y":-12.0},{"x":1026,"y":-10.96},{"x":1030,"y":-10.0},{"x":1035,"y":-9.4},{"x":1042,"y":-8.8},{"x":1050,"y":-8.6},{"x":1056,"y":-8.5},{"x":1062,"y":-8.55},{"x":1069,"y":-8.45},{"x":1076,"y":-8.6},{"x":1083,"y":-8.55},{"x":1090,"y":-8.7},{"x":1095,"y":-8.8},{"x":1099,"y":-8.65},{"x":1105,"y":-8.5},{"x":1110,"y":-8.4},{"x":1117,"y":-8.3},{"x":1123,"y":-8.35},{"x":1128,"y":-8.28},{"x":1133,"y":-8.45},{"x":1138,"y":-8.6},{"x":1144,"y":-8.72},{"x":1152,"y":-8.9},{"x":1160,"y":-9.05},{"x":1168,"y":-9.2},{"x":1174,"y":-9.35},{"x":1180,"y":-9.47},{"x":1188,"y":-9.7},{"x":1195,"y":-9.85},{"x":1201,"y":-9.95},{"x":1208,"y":-10.05},{"x":1214,"y":-10.0},{"x":1220,"y":-10.15},{"x":1228,"y":-10.2},{"x":1237,"y":-10.31},{"x":1243,"y":-10.2},{"x":1250,"y":-10.3},{"x":1257,"y":-10.25},{"x":1265,"y":-10.4},{"x":1272,"y":-10.55},{"x":1280,"y":-10.7},{"x":1288,"y":-10.85},{"x":1295,"y":-11.0},{"x":1303,"y":-11.15},{"x":1312,"y":-11.33},{"x":1320,"y":-11.5},{"x":1330,"y":-11.7},{"x":1340,"y":-11.9},{"x":1351,"y":-12.08},{"x":1358,"y":-12.15},{"x":1365,"y":-12.35},{"x":1372,"y":-12.4},{"x":1379,"y":-12.55},{"x":1386,"y":-12.64},{"x":1393,"y":-12.6},{"x":1400,"y":-12.75},{"x":1407,"y":-12.7},{"x":1415,"y":-12.9},{"x":1420,"y":-12.8},{"x":1426,"y":-12.85},{"x":1433,"y":-13.0},{"x":1440,"y":-13.1},{"x":1448,"y":-13.15},{"x":1455,"y":-13.25},{"x":1460,"y":-13.2},{"x":1464,"y":-13.3},{"x":1472,"y":-13.4},{"x":1480,"y":-13.55},{"x":1488,"y":-13.5},{"x":1495,"y":-13.65},{"x":1500,"y":-13.7},{"x":1505,"y":-13.73},{"x":1512,"y":-13.8},{"x":1520,"y":-13.95},{"x":1525,"y":-14.1},{"x":1530,"y":-14.2},{"x":1535,"y":-14.3},{"x":1540,"y":-14.41},{"x":1548,"y":-14.5},{"x":1555,"y":-14.45},{"x":1560,"y":-14.6},{"x":1565,"y":-14.65},{"x":1571,"y":-14.55},{"x":1578,"y":-14.6},{"x":1584,"y":-14.75},{"x":1590,"y":-14.85},{"x":1598,"y":-14.95},{"x":1605,"y":-15.0},{"x":1610,"y":-15.1},{"x":1616,"y":-15.17},{"x":1620,"y":-15.3},{"x":1625,"y":-15.35},{"x":1632,"y":-15.3},{"x":1640,"y":-15.15},{"x":1645,"y":-15.05},{"x":1650,"y":-14.95},{"x":1655,"y":-14.9},{"x":1658,"y":-14.98},{"x":1664,"y":-15.15},{"x":1670,"y":-15.3},{"x":1675,"y":-15.45},{"x":1680,"y":-15.5},{"x":1686,"y":-15.62},{"x":1692,"y":-15.67},{"x":1698,"y":-15.6},{"x":1705,"y":-15.5},{"x":1712,"y":-15.4},{"x":1720,"y":-15.35},{"x":1726,"y":-15.45},{"x":1732,"y":-15.5},{"x":1738,"y":-15.65},{"x":1745,"y":-15.73},{"x":1752,"y":-15.65},{"x":1760,"y":-15.6},{"x":1767,"y":-15.7},{"x":1775,"y":-15.75},{"x":1781,"y":-15.8},{"x":1786,"y":-15.82},{"x":1793,"y":-15.7},{"x":1800,"y":-15.6},{"x":1806,"y":-15.55},{"x":1812,"y":-15.45},{"x":1818,"y":-15.4},{"x":1824,"y":-15.35},{"x":1832,"y":-15.5},{"x":1840,"y":-15.55},{"x":1848,"y":-15.45},{"x":1855,"y":-15.42},{"x":1860,"y":-15.5},{"x":1866,"y":-15.59},{"x":1873,"y":-15.55},{"x":1880,"y":-15.5},{"x":1886,"y":-15.6},{"x":1890,"y":-15.63},{"x":1895,"y":-15.4},{"x":1898,"y":-15.2},{"x":1902,"y":-15.0},{"x":1905,"y":-14.8},{"x":1909,"y":-14.55},{"x":1914,"y":-14.65},{"x":1920,"y":-14.75},{"x":1925,"y":-14.8},{"x":1930,"y":-14.9},{"x":1935,"y":-14.8},{"x":1940,"y":-14.85},{"x":1948,"y":-15.0},{"x":1957,"y":-15.07},{"x":1963,"y":-15.1},{"x":1970,"y":-15.2},{"x":1977,"y":-15.25},{"x":1985,"y":-15.35},{"x":1992,"y":-15.15},{"x":2000,"y":-15.07}
  ],
  "marks": [
{"x":65,"sd":-0.18,"ep":-2.31},{"x":185,"sd":-0.37,"ep":-6.48},{"x":305,"sd":-0.77,"ep":-9.13},{"x":425,"sd":-1.22,"ep":-10.62},{"x":545,"sd":-1.59,"ep":-12.75},{"x":665,"sd":-1.9,"ep":-13.54},{"x":785,"sd":-2.28,"ep":-13.17},{"x":905,"sd":-2.59,"ep":-13.2},{"x":1025,"sd":-3.18,"ep":-10.96},{"x":1145,"sd":-5.03,"ep":-8.72},{"x":1265,"sd":-5.92,"ep":-10.4},{"x":1385,"sd":-6.48,"ep":-12.64},{"x":1505,"sd":-6.82,"ep":-13.73},{"x":1625,"sd":-7.04,"ep":-15.35},{"x":1745,"sd":-7.27,"ep":-15.73},{"x":1865,"sd":-7.5,"ep":-15.59},{"x":1985,"sd":-7.69,"ep":-15.35}
  ]
},
"vconcat": [
  {
    "width": 704, "height": 150,
    "resolve": {"axis": {"x": "independent", "y": "independent"}},
    "layer": [
      {"data": {"name": "exc"}, "mark": {"type": "line", "color": "#2a2270", "strokeWidth": 1.3, "clip": true},
       "encoding": {
         "x": {"field": "x", "type": "quantitative", "scale": {"domain": [0, 2000], "nice": false, "zero": false}, "axis": {"orient": "bottom", "values": [0,200,400,600,800,1000,1200,1400,1600,1800,2000], "labelOverlap": false, "title": "Samples", "titleX": 337, "titleY": 46.5, "labelExpr": "'' + datum.value"}},
         "y": {"field": "y", "type": "quantitative", "scale": {"domain": [-3, 3], "nice": false, "zero": false}, "axis": {"orient": "left", "values": [-2, 0, 2], "labelOverlap": false, "title": null, "labelExpr": "'' + datum.value"}}
       }},
      {"data": {"values": [{}]}, "mark": {"type": "text", "text": "Excitation"},
       "encoding": {
         "x": {"datum": 1247, "type": "quantitative", "axis": {"orient": "top", "values": [0,200,400,600,800,1000,1200,1400,1600,1800,2000], "labels": false, "grid": false, "title": null}},
         "y": {"datum": 1.27, "type": "quantitative", "axis": {"orient": "right", "values": [-2, 0, 2], "labels": false, "grid": false, "title": null}}
       }}
    ]
  },
  {
    "width": 704, "height": 184,
    "view": {"stroke": null},
    "resolve": {"scale": {"x": "independent", "y": "independent"}, "axis": {"x": "independent", "y": "independent"}},
    "layer": [
      {
        "resolve": {"axis": {"x": "independent", "y": "independent"}},
        "layer": [
          {"data": {"values": [{"f": 0.2}, {"f": 0.4}, {"f": 0.6}, {"f": 0.8}]}, "mark": {"type": "rule", "color": "#707070", "strokeDash": [1.4, 9.3], "strokeWidth": 1.1},
           "encoding": {
             "x": {"field": "f", "type": "quantitative", "scale": {"domain": [0, 2.2835], "nice": false, "zero": false}, "axis": {"values": [0, 0.2, 0.4, 0.6, 0.8, 1], "orient": "bottom", "offset": -11, "grid": false, "labelOverlap": false, "labelPadding": 12, "title": "Normalized frequency", "titleX": 157, "titleY": 46, "labelExpr": "'' + datum.value"}},
             "y": {"datum": -30, "type": "quantitative", "scale": {"domain": [-33.667, 27.667], "nice": false, "zero": false}, "axis": {"values": [-30, -20, -10, 0, 10, 20], "orient": "left", "grid": false, "labelOverlap": false, "title": "dB", "titleX": -78, "titleY": 104.7, "labelExpr": "'' + datum.value"}},
             "y2": {"datum": 20}
           }},
          {"data": {"values": [{"v": -20}, {"v": -10}, {"v": 0}, {"v": 10}]}, "mark": {"type": "rule", "color": "#707070", "strokeDash": [1.4, 9.3], "strokeWidth": 1.1},
           "encoding": {
             "y": {"field": "v", "type": "quantitative", "scale": {"domain": [-33.667, 27.667], "nice": false, "zero": false}, "axis": null},
             "x": {"datum": 0, "type": "quantitative", "scale": {"domain": [0, 2.2835], "nice": false, "zero": false}, "axis": null},
             "x2": {"datum": 1}
           }},
          {"data": {"name": "psd1"}, "mark": {"type": "line", "color": "#3d3792", "strokeWidth": 1.6},
           "encoding": {
             "x": {"field": "f", "type": "quantitative", "scale": {"domain": [0, 2.2835], "nice": false, "zero": false}, "axis": null},
             "y": {"field": "db", "type": "quantitative", "scale": {"domain": [-33.667, 27.667], "nice": false, "zero": false}, "axis": null}
           }},
          {"data": {"values": [{}]}, "mark": {"type": "rect", "fillOpacity": 0, "stroke": "#2a2a2a", "strokeWidth": 1},
           "encoding": {
             "x": {"datum": 0, "type": "quantitative", "scale": {"domain": [0, 2.2835], "nice": false, "zero": false}, "axis": {"values": [0, 0.2, 0.4, 0.6, 0.8, 1], "orient": "top", "offset": -23, "grid": false, "labels": false, "title": null}},
             "x2": {"datum": 1},
             "y": {"datum": -30, "type": "quantitative", "scale": {"domain": [-33.667, 27.667], "nice": false, "zero": false}, "axis": {"values": [-30, -20, -10, 0, 10, 20], "orient": "right", "offset": -395.7, "grid": false, "labels": false, "title": null}},
             "y2": {"datum": 20}
           }},
          {"data": {"values": [{}]}, "mark": {"type": "text", "text": "PSD (first 1000 samples)"},
           "encoding": {
             "x": {"datum": 0.5, "type": "quantitative", "scale": {"domain": [0, 2.2835], "nice": false, "zero": false}, "axis": null},
             "y": {"datum": 22.77, "type": "quantitative", "scale": {"domain": [-33.667, 27.667], "nice": false, "zero": false}, "axis": null}
           }}
        ]
      },
      {
        "resolve": {"axis": {"x": "independent", "y": "independent"}},
        "layer": [
          {"data": {"values": [{"f": 0.2}, {"f": 0.4}, {"f": 0.6}, {"f": 0.8}]}, "mark": {"type": "rule", "color": "#707070", "strokeDash": [1.4, 9.3], "strokeWidth": 1.1},
           "encoding": {
             "x": {"field": "f", "type": "quantitative", "scale": {"domain": [-1.2909, 1], "nice": false, "zero": false}, "axis": {"values": [0, 0.2, 0.4, 0.6, 0.8, 1], "orient": "bottom", "offset": -11, "grid": false, "labelOverlap": false, "labelPadding": 12, "title": "Normalized frequency", "titleX": 557, "titleY": 46, "labelExpr": "'' + datum.value"}},
             "y": {"datum": -30, "type": "quantitative", "scale": {"domain": [-33.667, 27.667], "nice": false, "zero": false}, "axis": {"values": [-30, -20, -10, 0, 10, 20], "orient": "left", "offset": -396.7, "grid": false, "labelOverlap": false, "title": null, "labelExpr": "'' + datum.value"}},
             "y2": {"datum": 20}
           }},
          {"data": {"values": [{"v": -20}, {"v": -10}, {"v": 0}, {"v": 10}]}, "mark": {"type": "rule", "color": "#707070", "strokeDash": [1.4, 9.3], "strokeWidth": 1.1},
           "encoding": {
             "y": {"field": "v", "type": "quantitative", "scale": {"domain": [-33.667, 27.667], "nice": false, "zero": false}, "axis": null},
             "x": {"datum": 0, "type": "quantitative", "scale": {"domain": [-1.2909, 1], "nice": false, "zero": false}, "axis": null},
             "x2": {"datum": 1}
           }},
          {"data": {"name": "psd2"}, "mark": {"type": "line", "color": "#3d3792", "strokeWidth": 1.6},
           "encoding": {
             "x": {"field": "f", "type": "quantitative", "scale": {"domain": [-1.2909, 1], "nice": false, "zero": false}, "axis": null},
             "y": {"field": "db", "type": "quantitative", "scale": {"domain": [-33.667, 27.667], "nice": false, "zero": false}, "axis": null}
           }},
          {"data": {"values": [{}]}, "mark": {"type": "rect", "fillOpacity": 0, "stroke": "#2a2a2a", "strokeWidth": 1},
           "encoding": {
             "x": {"datum": 0, "type": "quantitative", "scale": {"domain": [-1.2909, 1], "nice": false, "zero": false}, "axis": {"values": [0, 0.2, 0.4, 0.6, 0.8, 1], "orient": "top", "offset": -23, "grid": false, "labels": false, "title": null}},
             "x2": {"datum": 1},
             "y": {"datum": -30, "type": "quantitative", "scale": {"domain": [-33.667, 27.667], "nice": false, "zero": false}, "axis": {"values": [-30, -20, -10, 0, 10, 20], "orient": "right", "grid": false, "labels": false, "title": null}},
             "y2": {"datum": 20}
           }},
          {"data": {"values": [{}]}, "mark": {"type": "text", "text": "PSD (second 1000 samples)"},
           "encoding": {
             "x": {"datum": 0.49, "type": "quantitative", "scale": {"domain": [-1.2909, 1], "nice": false, "zero": false}, "axis": null},
             "y": {"datum": 22.77, "type": "quantitative", "scale": {"domain": [-33.667, 27.667], "nice": false, "zero": false}, "axis": null}
           }}
        ]
      }
    ]
  },
  {
    "width": 704, "height": 150,
    "resolve": {"axis": {"x": "independent", "y": "independent"}},
    "layer": [
      {"data": {"name": "dist"}, "mark": {"type": "line", "color": "#2a2270", "strokeWidth": 1.4, "clip": true},
       "encoding": {
         "x": {"field": "x", "type": "quantitative", "scale": {"domain": [0, 2000], "nice": false, "zero": false}, "axis": {"orient": "bottom", "values": [0,200,400,600,800,1000,1200,1400,1600,1800,2000], "labels": false, "title": "Samples", "titleX": 337, "titleY": 31}},
         "y": {"field": "y", "type": "quantitative", "scale": {"domain": [-0.3, 0.3], "nice": false, "zero": false}, "axis": {"orient": "left", "values": [-0.2, -0.1, 0, 0.1, 0.2], "labelOverlap": false, "title": null, "labelExpr": "'' + datum.value"}}
       }},
      {"data": {"values": [{}]}, "mark": {"type": "text", "text": "Distortion"},
       "encoding": {
         "x": {"datum": 1713, "type": "quantitative", "axis": {"orient": "top", "values": [0,200,400,600,800,1000,1200,1400,1600,1800,2000], "labels": false, "grid": false, "title": null}},
         "y": {"datum": 0.112, "type": "quantitative", "axis": {"orient": "right", "values": [-0.2, -0.1, 0, 0.1, 0.2], "labels": false, "grid": false, "title": null}}
       }}
    ]
  },
  {
    "width": 704, "height": 357,
    "resolve": {"axis": {"x": "independent", "y": "independent"}},
    "layer": [
      {"data": {"name": "sysd"}, "mark": {"type": "line", "color": "#3c3c9c", "strokeWidth": 1.5},
       "encoding": {
         "x": {"field": "x", "type": "quantitative", "scale": {"domain": [0, 2000], "nice": false, "zero": false}, "axis": {"orient": "bottom", "values": [0,200,400,600,800,1000,1200,1400,1600,1800,2000], "labelOverlap": false, "title": "Samples", "titleX": 337, "titleY": 51, "labelExpr": "'' + datum.value"}},
         "y": {"field": "y", "type": "quantitative", "scale": {"domain": [-17, 3], "nice": false, "zero": false}, "axis": {"orient": "left", "values": [-16,-14,-12,-10,-8,-6,-4,-2,0,2], "labelOverlap": false, "title": "dB", "titleX": -71, "titleY": 192.3, "labelExpr": "'' + datum.value"}}
       }},
      {"data": {"name": "errp"}, "mark": {"type": "line", "color": "#e63027", "strokeWidth": 1.3},
       "encoding": {"x": {"field": "x", "type": "quantitative", "axis": null}, "y": {"field": "y", "type": "quantitative", "axis": null}}},
      {"data": {"name": "marks"}, "mark": {"type": "point", "shape": "triangle-down", "size": 90, "filled": false, "color": "#555555", "strokeWidth": 1, "opacity": 1},
       "encoding": {"x": {"field": "x", "type": "quantitative", "axis": null}, "y": {"field": "sd", "type": "quantitative", "axis": null}}},
      {"data": {"name": "marks"}, "mark": {"type": "point", "shape": "square", "size": 64, "filled": false, "color": "#555555", "strokeWidth": 1, "opacity": 1},
       "encoding": {"x": {"field": "x", "type": "quantitative", "axis": null}, "y": {"field": "ep", "type": "quantitative", "axis": null}}},
      {"data": {"values": [{}]}, "mark": {"type": "text", "text": "System distance"},
       "encoding": {"x": {"datum": 1458, "type": "quantitative", "axis": null}, "y": {"datum": -3.89, "type": "quantitative", "axis": null}}},
      {"data": {"values": [{}]}, "mark": {"type": "text", "text": "Error power"},
       "encoding": {
         "x": {"datum": 539, "type": "quantitative", "axis": {"orient": "top", "values": [0,200,400,600,800,1000,1200,1400,1600,1800,2000], "labels": false, "grid": false, "title": null}},
         "y": {"datum": -8.13, "type": "quantitative", "axis": {"orient": "right", "values": [-16,-14,-12,-10,-8,-6,-4,-2,0,2], "labels": false, "grid": false, "title": null}}
       }}
    ]
  }
]
}
